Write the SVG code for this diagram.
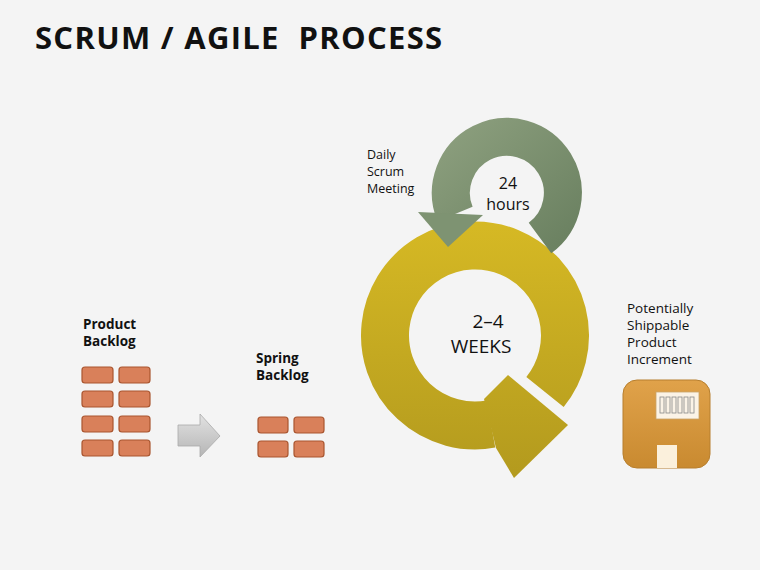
<svg xmlns="http://www.w3.org/2000/svg" width="760" height="570" viewBox="0 0 760 570">
<defs>
<linearGradient id="yg" gradientUnits="userSpaceOnUse" x1="0" y1="221" x2="0" y2="478"><stop offset="0" stop-color="#D6B924"/><stop offset="1" stop-color="#B39A1E"/></linearGradient>
<linearGradient id="gg" x1="0" y1="0" x2="1" y2="1"><stop offset="0" stop-color="#8A9D7C"/><stop offset="1" stop-color="#6C8262"/></linearGradient>
<linearGradient id="ag" x1="0" y1="0" x2="0" y2="1"><stop offset="0" stop-color="#E2E2E2"/><stop offset="1" stop-color="#B5B5B5"/></linearGradient>
<linearGradient id="bg" x1="0" y1="0" x2="0" y2="1"><stop offset="0" stop-color="#E0A24A"/><stop offset="1" stop-color="#C98A30"/></linearGradient>
</defs>
<style>
text{font-family:"Open Sans","Liberation Sans",sans-serif;fill:#111}
.b{font-weight:bold;font-size:13.5px}
.n{font-size:13.5px}
.s{font-size:12.5px}
.brick{fill:#D9805A;stroke:#A9552F;stroke-width:1.2}
</style>
<rect width="760" height="570" fill="#F4F4F4"/>
<text x="35" y="49" style="font-weight:bold;font-size:31px;letter-spacing:1.3px">SCRUM / AGILE&#160; PROCESS</text>
<g id="product-backlog">
<text class="b" x="83" y="329">Product</text><text class="b" x="83" y="346">Backlog</text>
<rect class="brick" x="82" y="367" width="31" height="16" rx="3"/><rect class="brick" x="119" y="367" width="31" height="16" rx="3"/>
<rect class="brick" x="82" y="391" width="31" height="16" rx="3"/><rect class="brick" x="119" y="391" width="31" height="16" rx="3"/>
<rect class="brick" x="82" y="416" width="31" height="16" rx="3"/><rect class="brick" x="119" y="416" width="31" height="16" rx="3"/>
<rect class="brick" x="82" y="440" width="31" height="16" rx="3"/><rect class="brick" x="119" y="440" width="31" height="16" rx="3"/>
</g>
<g id="sprint-backlog">
<text class="b" x="256" y="363">Spring</text><text class="b" x="256" y="380">Backlog</text>
<rect class="brick" x="258" y="417" width="30" height="16" rx="3"/><rect class="brick" x="294" y="417" width="30" height="16" rx="3"/>
<rect class="brick" x="258" y="441" width="30" height="16" rx="3"/><rect class="brick" x="294" y="441" width="30" height="16" rx="3"/>
</g>
<g id="connectors">
<polygon points="178,425 200,425 200,414 220,436 200,457 200,446 178,446" fill="url(#ag)" stroke="#AAA" stroke-width="0.8"/>
</g>
<g id="sprint-cycle">
<path d="M545,392 A90,90 0 1 0 491,424" fill="none" stroke="url(#yg)" stroke-width="48"/>
<polygon points="484,399 508,375 568,425 514,478 496,448" fill="url(#yg)"/>
<text x="488" y="328" text-anchor="middle" style="font-size:19px">2–4</text>
<text x="481" y="353" text-anchor="middle" style="font-size:19px">WEEKS</text>
</g>
<g id="daily-scrum">
<path d="M540,238 A56,56 0 1 0 455,214" fill="none" stroke="url(#gg)" stroke-width="38"/>
<polygon points="418,212 483,215 448,247" fill="#7E9372"/>
<text x="508" y="189" text-anchor="middle" style="font-size:16px">24</text>
<text x="508" y="210" text-anchor="middle" style="font-size:16px">hours</text>
<text class="s" x="367" y="159">Daily</text>
<text class="s" x="367" y="176">Scrum</text>
<text class="s" x="367" y="193">Meeting</text>
</g>
<g id="increment">
<text class="n" x="627" y="313">Potentially</text><text class="n" x="627" y="330">Shippable</text>
<text class="n" x="627" y="347">Product</text><text class="n" x="627" y="364">Increment</text>
<rect x="623" y="380" width="87" height="88" rx="14" fill="url(#bg)" stroke="#B77F2E"/>
<rect x="656" y="392" width="43" height="27" fill="#FBF3E6" stroke="#C9A46A" stroke-width="0.8"/>
<g stroke="#888" stroke-width="0.8" fill="none"><rect x="660" y="397" width="4" height="16"/><rect x="666" y="397" width="4" height="16"/><rect x="672" y="397" width="4" height="16"/><rect x="678" y="397" width="4" height="16"/><rect x="684" y="397" width="4" height="16"/><rect x="690" y="397" width="4" height="16"/></g>
<rect x="657" y="445" width="20" height="23" fill="#FBF0DC"/>
</g>
</svg>
